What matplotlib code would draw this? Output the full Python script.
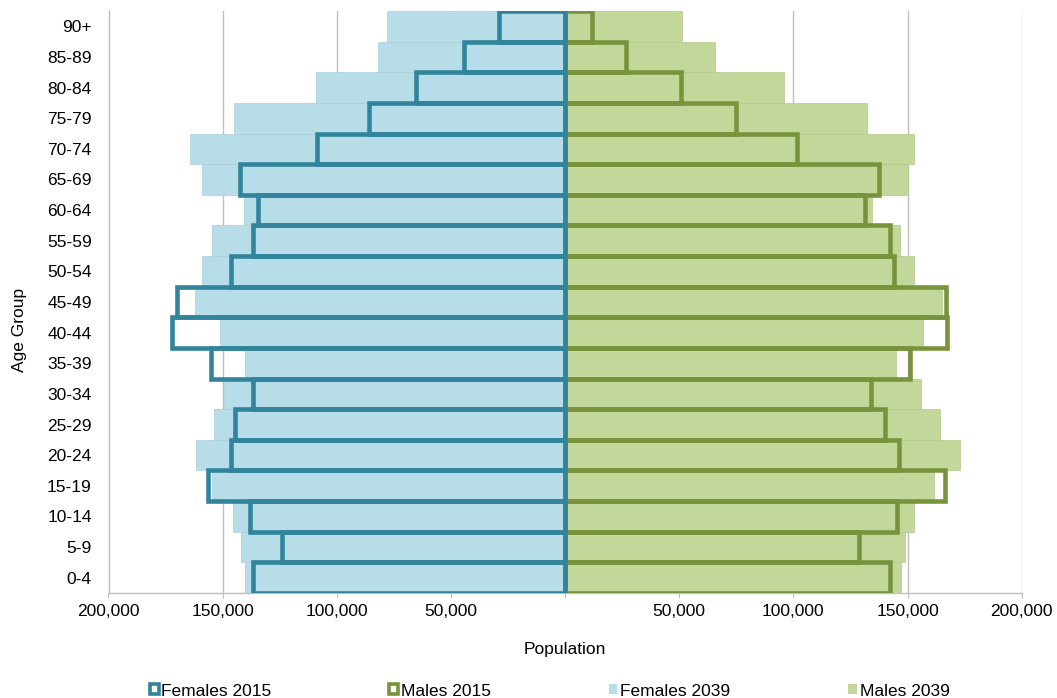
import matplotlib
matplotlib.use("Agg")
import matplotlib.pyplot as plt
from matplotlib.patches import Patch
from matplotlib.ticker import FuncFormatter, MultipleLocator

plt.rcParams["font.family"] = ["Liberation Sans", "DejaVu Sans"]

age_groups = ["0-4", "5-9", "10-14", "15-19", "20-24", "25-29", "30-34",
              "35-39", "40-44", "45-49", "50-54", "55-59", "60-64", "65-69",
              "70-74", "75-79", "80-84", "85-89", "90+"]

females_2015 = [136700, 123800, 138200, 156400, 146200, 144600, 136700,
                155300, 172200, 169900, 146500, 136700, 134300, 142500,
                108600, 85800, 65500, 44300, 28900]
females_2039 = [140200, 141800, 145500, 154700, 161800, 153800, 149400,
                140000, 151300, 162300, 159000, 154500, 140700, 159000,
                164300, 145000, 109300, 81900, 77900]
males_2015 = [142500, 128900, 145300, 166500, 146200, 140000, 134200,
              151200, 167400, 167000, 144200, 142200, 131300, 137400,
              101500, 74700, 50700, 26600, 12000]
males_2039 = [147200, 149000, 152900, 161800, 172800, 164000, 156100,
              145000, 156900, 164900, 152900, 146900, 134500, 150000,
              152900, 132200, 95800, 65500, 51200]

TEAL = "#31849B"
LIGHT_BLUE = "#B7DDE8"
OLIVE = "#77933C"
LIGHT_GREEN = "#C4D79B"
GRID = "#BFBFBF"
FS = 12.5

fig = plt.figure(figsize=(10.57, 6.98), dpi=100)
ax = fig.add_axes([108.5 / 1057, 1 - 593 / 698, 913.2 / 1057, 582 / 698])

y = list(range(len(age_groups)))

# projected population as solid bars
ax.barh(y, [-v for v in females_2039], height=1.0, color=LIGHT_BLUE,
        edgecolor="#A9CFDB", linewidth=0.5, zorder=2)
ax.barh(y, males_2039, height=1.0, color=LIGHT_GREEN,
        edgecolor="#B6CA8C", linewidth=0.5, zorder=2)

# current population as outlined bars
ax.barh(y, males_2015, height=1.0, fill=False, edgecolor=OLIVE,
        linewidth=3.3, zorder=3)
ax.barh(y, [-v for v in females_2015], height=1.0, fill=False,
        edgecolor=TEAL, linewidth=3.3, zorder=4)

ax.set_xlim(-200000, 200000)
ax.set_ylim(-0.5, len(age_groups) - 0.5)
ax.xaxis.set_major_locator(MultipleLocator(50000))
ax.xaxis.set_major_formatter(
    FuncFormatter(lambda v, _: "" if abs(v) < 1 else f"{abs(v):,.0f}"))
ax.set_yticks(y)
ax.set_yticklabels(age_groups)

ax.grid(axis="x", color=GRID, linewidth=1.0, zorder=0)
ax.set_axisbelow(True)
for side in ("top", "right"):
    ax.spines[side].set_visible(False)
for side in ("left", "bottom"):
    ax.spines[side].set_color(GRID)
    ax.spines[side].set_linewidth(1.0)

ax.tick_params(axis="x", direction="out", length=3.6, width=0.8,
               color=GRID, labelsize=FS, pad=4, labelcolor="black")
ax.tick_params(axis="y", length=0, labelsize=FS, pad=12, labelcolor="black")

ax.set_xlabel("Population", fontsize=FS)
ax.set_ylabel("Age Group", fontsize=FS)
ax.xaxis.set_label_coords(0.5, -0.085)
ax.yaxis.set_label_coords(-0.089, 0.452)

handles = [
    Patch(facecolor="white", edgecolor=TEAL, linewidth=2.6, label="Females 2015"),
    Patch(facecolor="white", edgecolor=OLIVE, linewidth=2.6, label="Males 2015"),
    Patch(facecolor=LIGHT_BLUE, edgecolor="none", label="Females 2039"),
    Patch(facecolor=LIGHT_GREEN, edgecolor="none", label="Males 2039"),
]
fig.legend(handles=handles, loc="center", bbox_to_anchor=(0.52, 0.010),
           ncol=4, frameon=False, fontsize=FS, handlelength=0.5,
           handleheight=0.5, handletextpad=0.15, columnspacing=6.8)

fig.savefig("out.png", dpi=100)
